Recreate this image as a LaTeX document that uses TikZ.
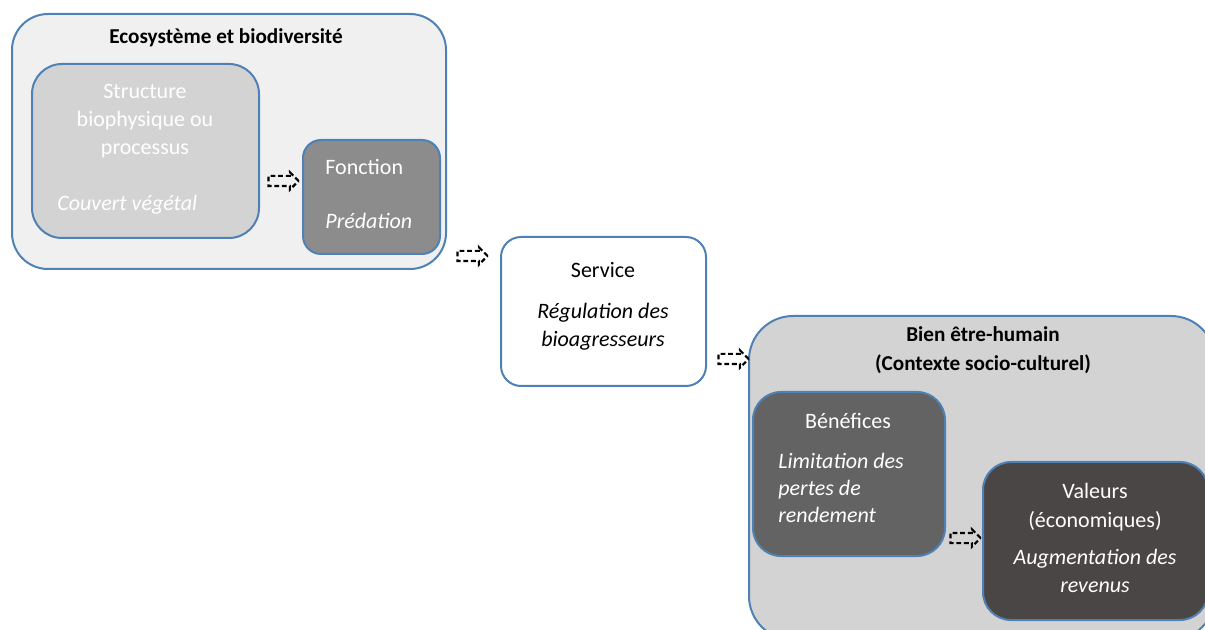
\documentclass[tikz,border=0pt]{standalone}
\usepackage{fontspec}
\setmainfont{Carlito}
\usetikzlibrary{shapes.arrows}
\definecolor{edge}{HTML}{4F81B5}
\definecolor{pale}{HTML}{F0F0F0}
\definecolor{light}{HTML}{D3D3D3}
\definecolor{mid}{HTML}{8C8C8C}
\definecolor{darkg}{HTML}{636363}
\definecolor{darker}{HTML}{4B4646}
\begin{document}
\begin{tikzpicture}[x=0.5pt, y=-0.5pt, font=\fontsize{11}{12}\selectfont,
  group/.style={draw=edge, line width=1pt, rounded corners=18pt},
  box/.style={draw=edge, line width=1pt, rounded corners=14pt},
  txt/.style={inner sep=0pt, align=center},
  wtxt/.style={inner sep=0pt, align=center, text=white},
  flow/.style={single arrow, draw=black, dashed, dash pattern=on 2.4pt off 1.4pt, line width=1.1pt, minimum height=15pt, minimum width=7.5pt, single arrow head extend=1.8pt, inner sep=2pt}]
\useasboundingbox (0,0) rectangle (1205,630);
\clip (0,0) rectangle (1205,630);
            % groups
            \node[group, fill=pale, minimum width=217pt, minimum height=127.5pt] (eco) at (229,141.5) {};
            \node[group, fill=light, minimum width=233pt, minimum height=162pt, rounded corners=22pt] (bien) at (982,478) {};

            % boxes
            \node[box, fill=light, minimum width=113.5pt, minimum height=87pt, rounded corners=15pt] (struct) at (145.5,151) {};
            \node[box, fill=mid, minimum width=68.5pt, minimum height=57pt, rounded corners=9pt] (fonct) at (371.5,197) {};
            \node[box, fill=white, minimum width=102.5pt, minimum height=74.5pt, rounded corners=10pt] (serv) at (603.5,311.5) {};
            \node[box, fill=darkg, minimum width=96pt, minimum height=82pt] (benef) at (849,474) {};
            \node[box, fill=darker, minimum width=112.5pt, minimum height=79pt] (val) at (1095.5,541) {};

            % texts
            \node[txt, font=\fontsize{10.6}{12}\selectfont\bfseries] (ecot) at (226,38) {Ecosystème et biodiversité};
            \node[wtxt, font=\fontsize{11}{14}\selectfont] (structt) at (145,121) {Structure\\biophysique ou\\processus};
            \node[wtxt, anchor=west, font=\fontsize{11}{12}\selectfont\itshape] (structi) at (57,205) {Couvert végétal};
            \node[wtxt, anchor=west] (fonctt) at (325,167) {Fonction};
            \node[wtxt, anchor=west, font=\fontsize{11}{12}\selectfont\itshape] (foncti) at (325,221) {Prédation};
            \node[txt] (servt) at (603,270) {Service};
            \node[txt, font=\fontsize{11}{14}\selectfont\itshape] (servi) at (603,327) {Régulation des\\bioagresseurs};
            \node[txt, font=\fontsize{10.6}{14.5}\selectfont\bfseries] (bient) at (983,350) {Bien être-humain\\(Contexte socio-culturel)};
            \node[wtxt] (beneft) at (848,421) {Bénéfices};
            \node[wtxt, anchor=west, align=left, font=\fontsize{11}{13.5}\selectfont\itshape] (benefi) at (778,488) {Limitation des\\pertes de\\rendement};
            \node[wtxt, font=\fontsize{11}{14.5}\selectfont] (valt) at (1095,507) {Valeurs\\(économiques)};
            \node[wtxt, font=\fontsize{11}{14}\selectfont\itshape] (vali) at (1095,571) {Augmentation des\\revenus};

            % arrows
            \node[flow] (a1) at (281,181) {};
            \node[flow] (a2) at (470,256) {};
            \node[flow] (a3) at (731,359) {};
            \node[flow] (a4) at (963,538) {};
\end{tikzpicture}
\end{document}
